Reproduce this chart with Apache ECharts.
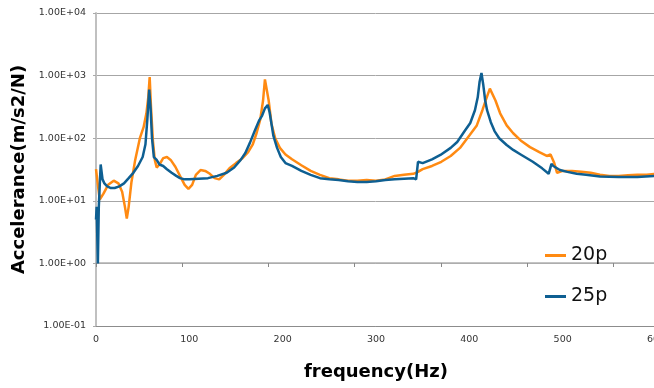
<!DOCTYPE html>
<html>
<head>
<meta charset="utf-8">
<script src="https://cdn.jsdelivr.net/npm/echarts@6/dist/echarts.min.js"></script>
<style>
html,body{margin:0;padding:0;background:#fff;}
#chart{width:654px;height:388px;}
</style>
</head>
<body>
<div id="chart"></div>
<script>
var seriesNames = ['20p', '25p'];
var freq20 = [0,2,4,8,13,19,24,28,31,33,35,38,42,47,51,54,56,57.5,59,61,63,65,68,72,76,80,85,90,95,99,103,107,112,117,122,127,132,137,143,150,157,163,168,172,176,179,181,183,185,188,192,197,203,210,220,230,240,250,260,270,280,290,300,310,320,330,340,345,350,360,370,380,390,400,408,414,418,422,424,428,433,440,447,455,465,475,483,487,489,491,494,500,510,520,530,540,550,560,570,580,590,600];
var acc20 = [32,18,10.5,13,18,21,19,14,8,5.2,8,20,45,100,150,250,450,950,300,90,45,34,38,48,50,45,35,25,18,15.5,18,26,31,30,27,23,22,26,33,40,48,60,80,120,200,400,870,830,400,170,100,70,55,46,37,30,26,23,22,21,21,21.5,21,22,25,26,27,29,32,36,42,52,70,110,160,280,420,620,600,400,250,160,120,92,72,60,52,55,57,40,28,30,30,29,28,26,25,25,25.5,26,26,27];
var freq25 = [0,0.7,1.2,2,3,5,7,9,12,16,20,25,30,35,40,45,50,53,55,57,58.5,60,62,65,68,72,76,81,86,90,95,100,110,120,130,140,148,155,160,165,170,175,178,181,184,186,188,190,194,198,203,210,220,230,240,250,260,270,280,290,300,310,320,330,340,343,345,350,360,369,380,387,395,401,406,409,411,413,415,417,419,423,427,432,440,447,455,468,478,485,486,488,490,497,505,515,525,540,560,580,600];
var acc25 = [5,8,8,1.0,8,38,22,19,17,16,16,17,19,23,28,36,50,80,200,600,300,100,50,45,38,36,32,28,25,23,22,22,22.5,23,25,28,34,45,58,85,130,195,230,300,340,260,170,110,70,50,40,36,30,26,23,22,21.5,20.5,20,20,20.5,21.5,22,22.5,23,22,42,40,46,54,70,87,130,175,280,450,800,1100,700,400,280,180,130,100,78,65,55,42,33,27,26,39,36,31,29,27,26,24.5,24,24,25];
var xTicks = [0,100,200,300,400,500,600];
var yTickLabels = ['1.00E-01','1.00E+00','1.00E+01','1.00E+02','1.00E+03','1.00E+04'];

function pairs(f, v){ return f.map(function(x,i){ return [x, v[i]]; }); }
function yLabel(val){
  var e = Math.round(Math.log10(val));
  return yTickLabels[e + 1] || '';
}

var chart = echarts.init(document.getElementById('chart'), null, {renderer:'canvas'});
var font = 'DejaVu Sans, Verdana, sans-serif';
chart.setOption({
  animation:false,
  backgroundColor:'#fff',
  grid:[
    {left:96, right:-2, top:13, bottom:62, containLabel:false, outerBoundsMode:'none'},
    {left:96, right:-2, top:13, bottom:125, containLabel:false, outerBoundsMode:'none'}
  ],
  legend:{
    orient:'vertical', left:540, top:241, itemGap:22,
    itemWidth:21, itemHeight:3, icon:'rect',
    textStyle:{fontFamily:font, fontSize:19, color:'#111'},
    data:seriesNames
  },
  xAxis:[{
    type:'value', gridIndex:0, min:0, max:600, interval:100,
    name:'frequency(Hz)', nameLocation:'middle', nameGap:37,
    nameTextStyle:{fontFamily:font, fontSize:18, fontWeight:'bold', color:'#000'},
    axisLine:{show:true, lineStyle:{color:'#8c8c8c', width:1}},
    axisTick:{show:false},
    splitLine:{show:false},
    axisLabel:{fontFamily:font, fontSize:9.5, color:'#333', margin:9, showMaxLabel:true}
  },{
    type:'value', gridIndex:1, min:0, max:600, interval:92.4, position:'bottom',
    axisLine:{show:true, onZero:false, lineStyle:{color:'#b0b0b0', width:1.5}},
    axisTick:{show:true, length:4, inside:false, lineStyle:{color:'#888', width:1}},
    axisLabel:{show:false}, splitLine:{show:false}
  }],
  yAxis:[{
    type:'log', gridIndex:0, min:0.1, max:10000, logBase:10,
    name:'Accelerance(m/s2/N)', nameLocation:'middle', nameGap:64, nameRotate:90,
    nameTextStyle:{fontFamily:font, fontSize:18, fontWeight:'bold', color:'#000'},
    axisLine:{show:true, lineStyle:{color:'#c0c0c0', width:2}},
    axisTick:{show:true, length:3, lineStyle:{color:'#aaa'}},
    splitLine:{show:true, lineStyle:{color:'#a6a6a6', width:1}},
    minorTick:{show:false},
    axisLabel:{fontFamily:font, fontSize:9.5, color:'#333', margin:10, formatter:yLabel}
  },{
    type:'value', gridIndex:1, min:0, max:1,
    axisLine:{show:false}, axisTick:{show:false}, axisLabel:{show:false}, splitLine:{show:false}
  }],
  series:[
    {name:'axisHelper', type:'line', xAxisIndex:1, yAxisIndex:1, data:[], symbol:'none', silent:true},
    {name:seriesNames[0], type:'line', xAxisIndex:0, yAxisIndex:0, showSymbol:false, symbol:'none',
     lineStyle:{color:'#ff8a12', width:2.5}, itemStyle:{color:'#ff8a12'}, data:pairs(freq20, acc20), z:2},
    {name:seriesNames[1], type:'line', xAxisIndex:0, yAxisIndex:0, showSymbol:false, symbol:'none',
     lineStyle:{color:'#0e5f92', width:2.5}, itemStyle:{color:'#0e5f92'}, data:pairs(freq25, acc25), z:3}
  ]
});
</script>
</body>
</html>
